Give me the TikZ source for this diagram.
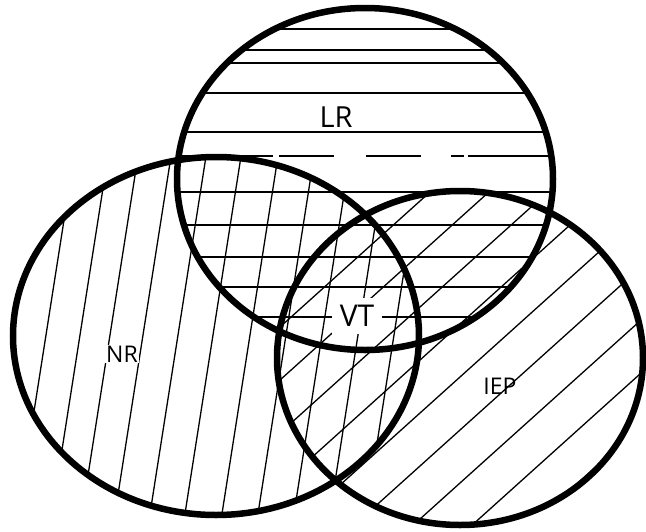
\documentclass[tikz,border=0pt]{standalone}
\usepackage{fontspec}
\setmainfont{Open Sans}
\tikzset{
  outline/.style={line width=6.5pt},
  hatch/.style={line width=1.3pt},
  lbl/.style={inner sep=2pt, text=black}
}
\begin{document}
\begin{tikzpicture}[x=1pt,y=-1pt]
\path[use as bounding box, fill=white] (0,0) rectangle (646,531);
% LR horizontal hatching
\begin{scope}
  \clip (365,179) ellipse [x radius=188pt, y radius=171pt];
  \foreach \yy in {29,50,63,93,132,192,225,257,287,317}
    \draw[hatch] (170,\yy) -- (560,\yy);
  \draw[hatch, dash pattern=on 95pt off 6pt on 55pt off 32pt on 55pt off 30pt on 13pt off 4pt on 200pt] (178,156) -- (560,156);
\end{scope}
% NR near-vertical hatching
\begin{scope}
  \clip (216,336) ellipse [x radius=203pt, y radius=179pt];
  \foreach \xx in {-28,10,46,80,110,143,178,213,250,286,322,358,394,430}
    \draw[hatch] (\xx+29,150) -- (\xx-29,520);
\end{scope}
% IEP diagonal hatching
\begin{scope}
  \clip (460,358) ellipse [x radius=183pt, y radius=167pt];
  \foreach \cc in {165,218,271,324,377,430,483,536,589,642,695}
    \draw[hatch] (270,\cc+171) -- (650,\cc-171);
\end{scope}
% outlines
\draw[outline] (365,179) ellipse [x radius=188pt, y radius=171pt];
\draw[outline] (216,336) ellipse [x radius=203pt, y radius=179pt];
\draw[outline] (460,358) ellipse [x radius=183pt, y radius=167pt];
% labels
\node[lbl, font=\fontsize{29}{32}\selectfont] (lr) at (336,117) {LR};
\node[lbl, fill=white, inner xsep=8pt, inner ysep=7pt, font=\fontsize{30}{33}\selectfont] (vt) at (357,316) {VT};
\node[lbl, fill=white, inner sep=1pt, font=\fontsize{23}{26}\selectfont] (nr) at (122,354) {NR};
\node[lbl, font=\fontsize{23}{26}\selectfont] (iep) at (500,386) {IEP};
\end{tikzpicture}
\end{document}
